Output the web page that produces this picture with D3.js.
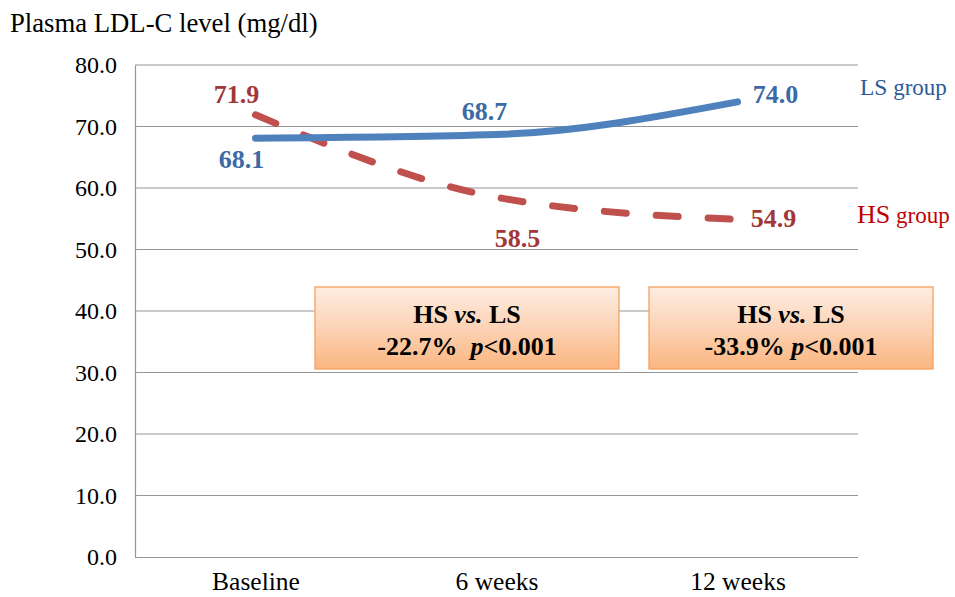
<!DOCTYPE html>
<html><head><meta charset="utf-8">
<script src="https://cdn.jsdelivr.net/npm/d3@7"></script>
<style>body{margin:0;background:#fff}svg{display:block}svg text{font-family:"Liberation Serif",Tinos,"Times New Roman",Times,"DejaVu Serif",serif !important}</style>
</head><body><svg id="c" width="955" height="597"></svg>
<script>
const categories = ["Baseline", "6 weeks", "12 weeks"];
const lsValues = [68.1, 68.7, 74.0];
const hsValues = [71.9, 58.5, 54.9];
const yTicks = [0, 10, 20, 30, 40, 50, 60, 70, 80];
const title = "Plasma LDL-C level (mg/dl)";
const boxes = [
  {line1: ["HS ", "vs.", " LS"], pct: "-22.7%\u00A0\u00A0", p: "p", rest: "<0.001"},
  {line1: ["HS ", "vs.", " LS"], pct: "-33.9% ", p: "p", rest: "<0.001"}
];

const svg = d3.select("#c");
const L = 135, R = 858, T = 65, B = 557;
const x = d3.scalePoint().domain(categories).range([L, R]).padding(0.5);
const y = d3.scaleLinear().domain([0, 80]).range([B, T]);

// gridlines
svg.append("g").selectAll("line").data(yTicks.filter(d => d > 0)).join("line")
  .attr("x1", L).attr("x2", R).attr("y1", d => y(d)).attr("y2", d => y(d))
  .attr("stroke", "#969696").attr("stroke-width", 1.2);

// y axis
const ya = svg.append("g").attr("transform", `translate(${L},0)`)
  .call(d3.axisLeft(y).tickValues(yTicks).tickFormat(d3.format(".1f")).tickSize(0).tickPadding(18));
ya.select(".domain").attr("stroke", "#969696").attr("stroke-width", 1.2);
ya.selectAll("text").attr("font-size", 24).attr("fill", "#000");

// x axis
const xa = svg.append("g").attr("transform", `translate(0,${B})`)
  .call(d3.axisBottom(x).tickSize(0).tickPadding(15));
xa.select(".domain").attr("d", `M${L},0.5H${R}`).attr("stroke", "#969696").attr("stroke-width", 1.2);
xa.selectAll("text").attr("font-size", 25.5).attr("fill", "#000");

// title
svg.append("text").attr("x", 10).attr("y", 32).attr("font-size", 26.7).text(title);

// lines
const line = d3.line().x((d, i) => x(categories[i])).y(d => y(d)).curve(d3.curveMonotoneX);
svg.append("path").datum(hsValues).attr("d", line).attr("fill", "none")
  .attr("stroke", "#C0504D").attr("stroke-width", 7).attr("stroke-linecap", "round")
  .attr("stroke-dasharray", "22 30");
svg.append("path").datum(lsValues).attr("d", line).attr("fill", "none")
  .attr("stroke", "#4F81BD").attr("stroke-width", 7).attr("stroke-linecap", "round");

// value labels
const lsOff = [[-14, 30], [-12, -14], [38, 1]];
const hsOff = [[-19, -12], [21, 50], [36, 8]];
svg.append("g").selectAll("text").data(lsValues).join("text")
  .attr("x", (d, i) => x(categories[i]) + lsOff[i][0]).attr("y", (d, i) => y(d) + lsOff[i][1])
  .attr("text-anchor", "middle")
  .attr("font-size", 26).attr("font-weight", "bold").attr("fill", "#3C6AA5").text(d => d.toFixed(1));
svg.append("g").selectAll("text").data(hsValues).join("text")
  .attr("x", (d, i) => x(categories[i]) + hsOff[i][0]).attr("y", (d, i) => y(d) + hsOff[i][1])
  .attr("text-anchor", "middle")
  .attr("font-size", 26).attr("font-weight", "bold").attr("fill", "#A2373A").text(d => d.toFixed(1));

// legends
const lg1 = svg.append("text").attr("x", 860).attr("y", 95).attr("fill", "#2E5A97");
lg1.append("tspan").attr("font-size", 23.5).text("LS");
lg1.append("tspan").attr("font-size", 23).text(" group");
const lg2 = svg.append("text").attr("x", 857).attr("y", 223).attr("fill", "#C00000");
lg2.append("tspan").attr("font-size", 26).text("HS");
lg2.append("tspan").attr("font-size", 23).text(" group");

// boxes
const defs = svg.append("defs");
const gr = defs.append("linearGradient").attr("id", "bg").attr("x1", 0).attr("y1", 0).attr("x2", 0).attr("y2", 1);
gr.append("stop").attr("offset", "0%").attr("stop-color", "#FEEDE2");
gr.append("stop").attr("offset", "50%").attr("stop-color", "#FCD3B5");
gr.append("stop").attr("offset", "100%").attr("stop-color", "#FBB57F");
const boxX = [315, 649], boxW = [304, 284];
boxes.forEach((b, i) => {
  const g = svg.append("g");
  const y0 = 287, y1 = 369;
  g.append("rect").attr("x", boxX[i]).attr("y", y0).attr("width", boxW[i]).attr("height", y1 - y0)
    .attr("fill", "url(#bg)").attr("stroke", "#F4A15E").attr("stroke-width", 1.3);
  const cx = boxX[i] + boxW[i] / 2;
  const t1 = g.append("text").attr("x", cx).attr("y", y0 + 36).attr("text-anchor", "middle")
    .attr("font-size", 26).attr("font-weight", "bold");
  t1.append("tspan").text(b.line1[0]);
  t1.append("tspan").attr("font-style", "italic").text(b.line1[1]);
  t1.append("tspan").text(b.line1[2]);
  const t2 = g.append("text").attr("x", cx).attr("y", y0 + 68).attr("text-anchor", "middle")
    .attr("font-size", 26).attr("font-weight", "bold");
  t2.append("tspan").text(b.pct);
  t2.append("tspan").attr("font-style", "italic").text(b.p);
  t2.append("tspan").text(b.rest);
});
</script></body></html>
